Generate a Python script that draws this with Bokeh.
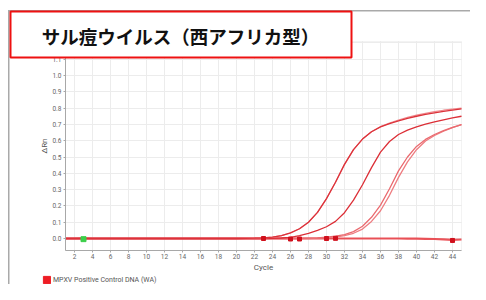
from bokeh.plotting import figure
from bokeh.models import (BoxAnnotation, Label, Legend, LegendItem, FixedTicker,
                          Range1d, ColumnDataSource, PrintfTickFormatter, Grid)
from bokeh.embed import file_html
from bokeh.resources import INLINE

# ---------------- data ----------------
title_text = "サル痘ウイルス（西アフリカ型）"
legend_label = "MPXV Positive Control DNA (WA)"
x_label = "Cycle"
y_label = "ΔRn"

cycles = list(range(1, 46))

sample_a = [0.000, 0.000, 0.000, 0.000, 0.000, 0.000, 0.000, 0.000, 0.000, 0.000,
            0.000, 0.000, 0.000, 0.000, 0.000, 0.000, 0.000, 0.000, 0.000, 0.000,
            0.001, 0.002, 0.004, 0.009, 0.018, 0.034, 0.060, 0.100, 0.160, 0.245,
            0.345, 0.455, 0.545, 0.610, 0.655, 0.685, 0.705, 0.722, 0.737, 0.750,
            0.761, 0.771, 0.780, 0.788, 0.795]
sample_a2 = [0.000, 0.000, 0.000, 0.000, 0.000, 0.000, 0.000, 0.000, 0.000, 0.000,
             0.000, 0.000, 0.000, 0.000, 0.000, 0.000, 0.000, 0.000, 0.000, 0.000,
             0.001, 0.002, 0.004, 0.009, 0.018, 0.034, 0.060, 0.100, 0.160, 0.245,
             0.345, 0.455, 0.545, 0.610, 0.655, 0.686, 0.708, 0.727, 0.743, 0.757,
             0.768, 0.778, 0.787, 0.794, 0.800]
sample_b = [0.000, 0.000, 0.000, 0.000, 0.000, 0.000, 0.000, 0.000, 0.000, 0.000,
            0.000, 0.000, 0.000, 0.000, 0.000, 0.000, 0.000, 0.000, 0.000, 0.000,
            0.000, 0.000, 0.000, 0.001, 0.003, 0.007, 0.018, 0.032, 0.050, 0.072,
            0.105, 0.158, 0.235, 0.330, 0.435, 0.530, 0.595, 0.638, 0.665, 0.685,
            0.701, 0.715, 0.728, 0.740, 0.750]
sample_c = [0.000, 0.000, 0.000, 0.000, 0.000, 0.000, 0.000, 0.000, 0.000, 0.000,
            0.000, 0.000, 0.000, 0.000, 0.000, 0.000, 0.000, 0.000, 0.000, 0.000,
            0.000, 0.000, 0.000, 0.000, 0.000, 0.000, 0.000, 0.002, 0.004, 0.008,
            0.014, 0.024, 0.042, 0.075, 0.130, 0.205, 0.305, 0.415, 0.500, 0.565,
            0.608, 0.638, 0.662, 0.682, 0.698]
sample_d = [0.000, 0.000, 0.000, 0.000, 0.000, 0.000, 0.000, 0.000, 0.000, 0.000,
            0.000, 0.000, 0.000, 0.000, 0.000, 0.000, 0.000, 0.000, 0.000, 0.000,
            0.000, 0.000, 0.000, 0.000, 0.000, 0.000, 0.000, 0.000, 0.002, 0.005,
            0.009, 0.017, 0.032, 0.058, 0.105, 0.170, 0.265, 0.375, 0.470, 0.545,
            0.598, 0.632, 0.658, 0.680, 0.698]
negative = [0.000, 0.000, 0.001, 0.000, 0.000, 0.000, 0.000, 0.000, 0.000, 0.000,
            0.000, 0.000, 0.000, 0.000, 0.000, 0.000, 0.000, 0.000, 0.000, 0.000,
            0.000, 0.000, 0.000, 0.000, 0.000, 0.000, 0.000, 0.000, 0.000, 0.000,
            0.000, 0.000, 0.000, 0.000, 0.000, 0.000, 0.000, 0.000, -0.001, -0.001,
            -0.002, -0.003, -0.005, -0.008, -0.006]

ct_cycles = [23, 26, 27, 30, 31, 44]
ct_values = [0.000, -0.003, -0.003, 0.000, 0.001, -0.012]
start_cycle = [3]
start_value = [-0.004]

y_ticks = [0.0, 0.1, 0.2, 0.3, 0.4, 0.5, 0.6, 0.7, 0.8, 0.9, 1.0, 1.1, 1.2]
x_ticks = list(range(2, 46, 2))
x_bounds = (1, 45)            # cycle axis extent
y_bounds = (-0.0736, 1.2086)  # ΔRn axis extent

# ---------------- figure ----------------
# The frame spans the whole canvas; the axes are pinned at fixed locations so
# that the title box, the legend and the slide frame are not clipped.
W, H = 470, 284
PX_X0, PX_PER_CYCLE = 65.0, 9.0      # canvas x of cycle 1, px per cycle
PX_Y0, PX_PER_UNIT = 238.0, 163.0    # canvas y of ΔRn 0, px per ΔRn unit
x_start = 1 - PX_X0 / PX_PER_CYCLE
x_end = 1 + (W - PX_X0) / PX_PER_CYCLE
y_start = -(H - PX_Y0) / PX_PER_UNIT
y_end = PX_Y0 / PX_PER_UNIT

p = figure(width=W, height=H, output_backend="svg", toolbar_location=None,
           x_range=Range1d(x_start, x_end), y_range=Range1d(y_start, y_end),
           min_border=0, min_border_left=0, min_border_right=0,
           min_border_top=0, min_border_bottom=0)
p.title.visible = False
p.background_fill_color = "white"
p.border_fill_color = "white"
p.outline_line_color = None

TICK_FONT = "Roboto"
for ax in (p.xaxis[0], p.yaxis[0]):
    ax.axis_line_color = "#a8a8a8"
    ax.major_tick_line_color = "#a8a8a8"
    ax.minor_tick_line_color = None
    ax.major_tick_in = 0
    ax.major_tick_out = 2
    ax.major_label_text_font = TICK_FONT
    ax.major_label_text_font_size = "6.5px"
    ax.major_label_text_color = "#666666"
    ax.major_label_standoff = 2
    ax.axis_label_text_font = TICK_FONT
    ax.axis_label_text_font_size = "8px"
    ax.axis_label_text_font_style = "normal"
    ax.axis_label_text_color = "#555555"
    ax.axis_label_standoff = 0

p.xaxis.ticker = FixedTicker(ticks=x_ticks)
p.yaxis.ticker = FixedTicker(ticks=y_ticks)
p.yaxis.formatter = PrintfTickFormatter(format="%.1f")
p.xaxis.axis_label = x_label
p.yaxis.axis_label = y_label
p.xaxis.bounds = x_bounds
p.yaxis.bounds = y_bounds
p.xaxis.fixed_location = y_bounds[0]
p.yaxis.fixed_location = x_bounds[0]

# grid limited to the plot box
has_cross = "cross_bounds" in Grid.properties()
p.xgrid.ticker = FixedTicker(ticks=x_ticks)
p.ygrid.ticker = FixedTicker(ticks=y_ticks)
p.xgrid.bounds = x_bounds
p.ygrid.bounds = y_bounds
if has_cross:
    p.xgrid.cross_bounds = y_bounds
    p.ygrid.cross_bounds = x_bounds
    for g in (p.xgrid[0], p.ygrid[0]):
        g.grid_line_color = "#ececec"
        g.grid_line_width = 1
else:
    p.xgrid.visible = False
    p.ygrid.visible = False
    p.segment(x0=x_ticks, x1=x_ticks, y0=[y_bounds[0]] * len(x_ticks),
              y1=[y_bounds[1]] * len(x_ticks), line_color="#ececec", line_width=1)
    p.segment(x0=[x_bounds[0]] * len(y_ticks), x1=[x_bounds[1]] * len(y_ticks),
              y0=y_ticks, y1=y_ticks, line_color="#ececec", line_width=1)

# plot box outline (top / right light border)
p.add_layout(BoxAnnotation(left=x_bounds[0], right=x_bounds[1], bottom=y_bounds[0],
                           top=y_bounds[1], fill_alpha=0, line_color="#d6d6d6",
                           line_width=1, level="underlay"))

src = ColumnDataSource(dict(cycle=cycles, a=sample_a, a2=sample_a2, b=sample_b,
                            c=sample_c, d=sample_d, n=negative))

p.line("cycle", "n", source=src, line_color="#e8353c", line_width=2.2, line_alpha=0.85)
p.line("cycle", "d", source=src, line_color="#ee7c80", line_width=1.3)
p.line("cycle", "c", source=src, line_color="#ea6a6f", line_width=1.3)
p.line("cycle", "b", source=src, line_color="#dc2f37", line_width=1.3)
p.line("cycle", "a2", source=src, line_color="#ef8a8e", line_width=1.2)
p.line("cycle", "a", source=src, line_color="#dc323a", line_width=1.3)

p.scatter(ct_cycles, ct_values, marker="square", size=4, fill_color="#d0101c",
          line_color="#d0101c")
p.scatter(start_cycle, start_value, marker="square", size=5, fill_color="#3ccf4a",
          line_color="#3ccf4a")

# legend: a swatch renderer with one empty (NaN) row, so only its legend glyph shows
nan = float("nan")
leg_r = p.quad(left=[nan], right=[nan], top=[nan], bottom=[nan],
               fill_color="#ee1c24", line_color="#ee1c24")
legend = Legend(items=[LegendItem(label=legend_label, renderers=[leg_r], index=0)],
                location=(42, 0), padding=0, margin=0, spacing=0,
                glyph_width=9, glyph_height=9, label_standoff=2,
                label_text_font=TICK_FONT, label_text_font_size="7px",
                label_text_color="#555555", label_height=9,
                border_line_alpha=0, background_fill_alpha=0)
p.add_layout(legend, "center")


def cbox(x0, x1, y0, y1, **kw):
    """Box in canvas pixels (origin top-left, y down) -> screen units
    (origin frame bottom-left, y up; the frame is the whole canvas)."""
    return BoxAnnotation(left=x0, right=x1, top=H - y0, bottom=H - y1,
                         left_units="screen", right_units="screen",
                         top_units="screen", bottom_units="screen", **kw)


# slide frame lines
p.add_layout(cbox(8, W, 9.5, 11, fill_color="#a9a9a9", fill_alpha=1, line_alpha=0))
p.add_layout(cbox(7.5, 9, 9.5, H, fill_color="#a9a9a9", fill_alpha=1, line_alpha=0))

# title box
p.add_layout(cbox(10, 351, 11, 57, fill_color="white", fill_alpha=1,
                  line_color="#ee1111", line_width=2, line_alpha=1))
p.add_layout(Label(x=180, y=H - 35, x_units="screen", y_units="screen",
                   text=title_text, text_align="center", text_baseline="middle",
                   text_font="Noto Sans CJK JP", text_font_style="bold",
                   text_font_size="18.5px", text_color="#111111"))

open("out.html", "w").write(file_html(p, INLINE))
